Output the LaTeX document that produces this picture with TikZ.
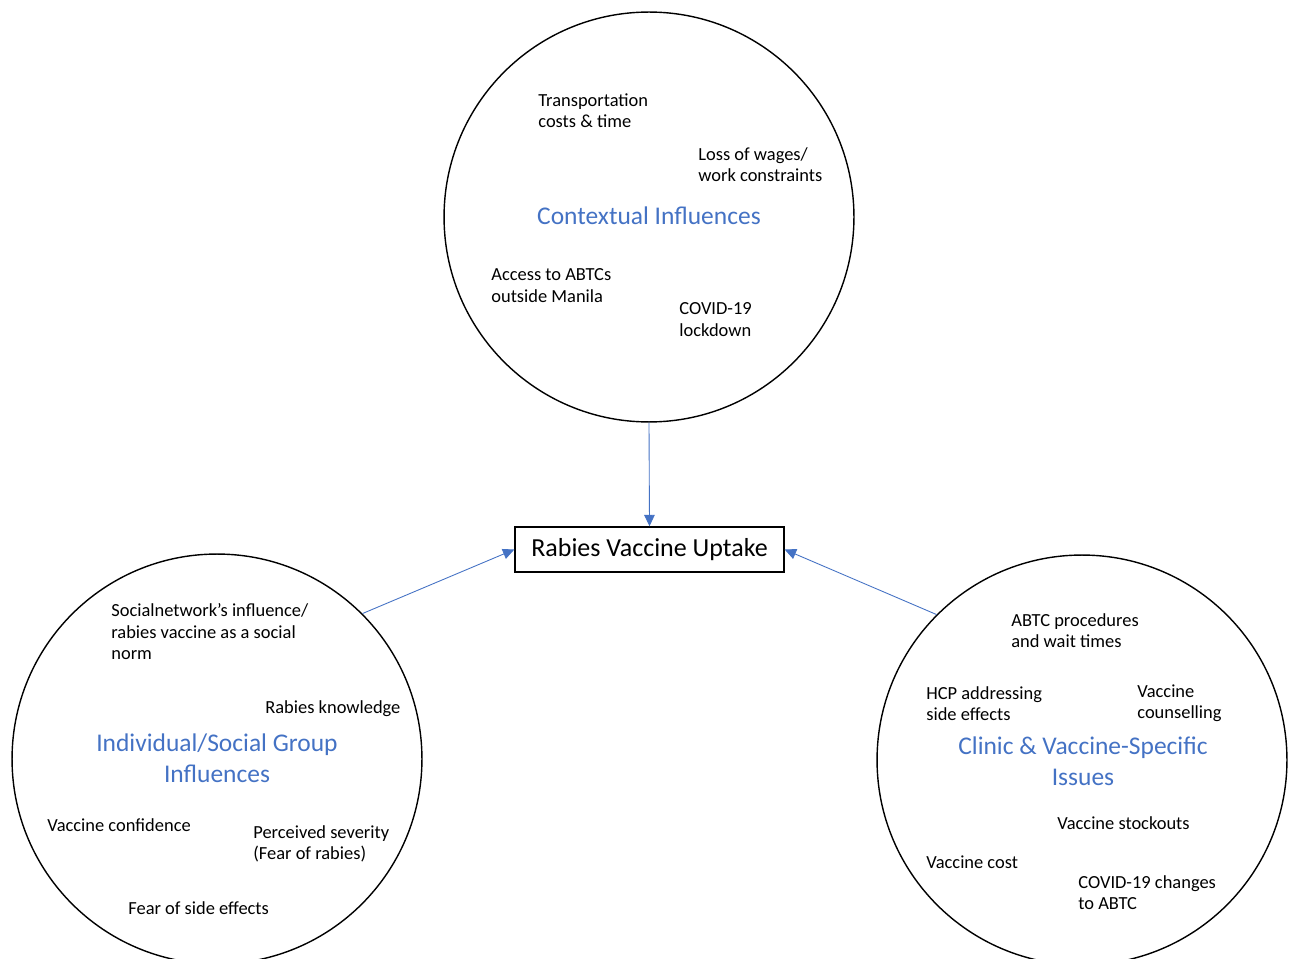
\documentclass[tikz,border=0pt]{standalone}
\usepackage{fontspec}
\setmainfont{Carlito}
\usepackage{tikz}
\usetikzlibrary{arrows.meta}
\usepackage{xcolor}
\definecolor{themeblue}{HTML}{4472C4}

\begin{document}
\begin{tikzpicture}[
    x=0.02cm, y=-0.02cm,
    ring/.style={draw, circle, line width=0.8pt, minimum size=8.2cm, inner sep=0pt},
    item/.style={anchor=north west, align=left, inner sep=0pt, font=\fontsize{10.5}{12.4}\selectfont},
    theme/.style={align=center, inner sep=0pt, text=themeblue, font=\fontsize{14.5}{17.6}\selectfont},
    link/.style={draw=themeblue, line width=0.5pt, -{Triangle[length=6.5pt, width=6pt]}}
]
\useasboundingbox (0,0) rectangle (1295,959);
\clip (0,0) rectangle (1295,959);

\node[ring] (tc) at (649,217) {};
\node[ring] (lc) at (217,759) {};
\node[ring] (rc) at (1082,760) {};
\node[draw, line width=0.8pt, minimum width=5.38cm, minimum height=0.9cm, font=\fontsize{14.8}{17}\selectfont] (uptake) at (649.5,549.5) {Rabies Vaccine Uptake\hspace{6pt}};

\node[theme] (ctx) at (649,216) {Contextual Influences};
\node[item] (transport) at (538,93) {Transportation\\costs \& time};
\node[item] (wages) at (698,147) {Loss of wages/\\work constraints};
\node[item] (access) at (491,268) {Access to ABTCs\\outside Manila};
\node[item] (lockdown) at (679,302) {COVID-19\\lockdown};

\node[theme] (indiv) at (217,758) {Individual/Social Group\\Influences};
\node[item] (network) at (111,603) {Socialnetwork’s influence/\\rabies vaccine as a social\\norm};
\node[item] (knowledge) at (265,700) {Rabies knowledge};
\node[item] (confidence) at (47,818) {Vaccine confidence};
\node[item] (severity) at (253,825) {Perceived severity\\(Fear of rabies)};
\node[item] (sidefear) at (128,901) {Fear of side effects};

\node[theme] (clinic) at (1083,761) {Clinic \& Vaccine-Specific\\Issues};
\node[item] (procedures) at (1011,613) {ABTC procedures\\and wait times};
\node[item] (hcp) at (926,686) {HCP addressing\\side effects};
\node[item] (counsel) at (1137,684) {Vaccine\\counselling};
\node[item] (stockouts) at (1057,816) {Vaccine stockouts};
\node[item] (cost) at (926,855) {Vaccine cost};
\node[item] (abtc) at (1078,875) {COVID-19 changes\\to ABTC};

\draw[link] (tc.south) -- (uptake.north);
\draw[link] (lc.45) -- (uptake.west);
\draw[link] (rc.135) -- (uptake.east);
\end{tikzpicture}
\end{document}
